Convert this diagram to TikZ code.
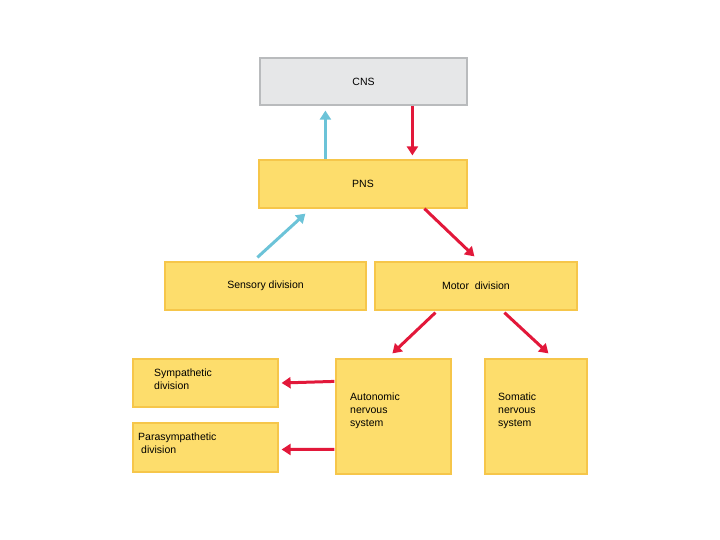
\documentclass[tikz,border=0pt]{standalone}
\usepackage{fontspec}
\setmainfont{Liberation Sans}
\usetikzlibrary{calc,arrows.meta}
\definecolor{yel}{HTML}{FDDD6C}
\definecolor{yelb}{HTML}{F6C64A}
\definecolor{gr}{HTML}{E6E7E8}
\definecolor{grb}{HTML}{B9BBBD}
\definecolor{bl}{HTML}{6CC3D8}
\definecolor{rd}{HTML}{E2183A}
\tikzset{
 box/.style={draw=yelb,fill=yel,line width=1.2pt,inner sep=0pt},
 lbl/.style={font=\fontsize{10.5}{13}\selectfont,align=left,anchor=north west,inner sep=0pt},
 ra/.style={draw=rd,line width=3pt,-{Triangle[length=9pt,width=11pt]}},
 ba/.style={draw=bl,line width=3pt,-{Triangle[length=9pt,width=11pt]}},
}
\begin{document}
\begin{tikzpicture}[x=1pt,y=-1pt]
\useasboundingbox (0,0) rectangle (720,540);
\node[draw=grb,fill=gr,line width=1.2pt,minimum width=207pt,minimum height=47pt,font=\fontsize{10.5}{13}\selectfont] (cns) at (363.5,81.5) {CNS};
\node[box,minimum width=208pt,minimum height=48pt,font=\fontsize{10.5}{13}\selectfont] (pns) at (363,184) {PNS};
\node[box,minimum width=201pt,minimum height=48pt,font=\fontsize{10.5}{13}\selectfont] (sen) at (265.5,286) {Sensory division};
\node[box,minimum width=202pt,minimum height=48pt,font=\fontsize{10.5}{13}\selectfont] (mot) at (476,286) {Motor\ \ division};
\node[box,minimum width=145pt,minimum height=48pt] (sym) at (205.5,383) {};
\node[box,minimum width=145pt,minimum height=49pt] (par) at (205.5,447.5) {};
\node[box,minimum width=115pt,minimum height=115pt] (aut) at (393.5,416.5) {};
\node[box,minimum width=102pt,minimum height=115pt] (som) at (536,416.5) {};
\node[lbl] (tsym) at (154,369) {Sympathetic\\division};
\node[lbl] (tpar) at (138,433) {Parasympathetic\\\hspace*{3pt}division};
\node[lbl] (taut) at (350,393) {Autonomic\\nervous\\system};
\node[lbl] (tsom) at (498,393) {Somatic\\nervous\\system};
\draw[ba] ($(pns.north west)+(67,0)$) -- ($(cns.south west)+(66,5)$);
\draw[ra] ($(cns.south west)+(153,0)$) -- ($(pns.north west)+(154,-4)$);
\draw[ba] ($(sen.north west)+(93,-4)$) -- ($(pns.south west)+(47,5)$);
\draw[ra] ($(pns.south west)+(166,0)$) -- ($(mot.north west)+(100,-5)$);
\draw[ra] ($(mot.south west)+(61,2)$) -- ($(aut.north west)+(57,-5)$);
\draw[ra] ($(mot.south west)+(130,2)$) -- ($(som.north west)+(64,-5)$);
\draw[ra] ($(aut.north west)+(-1,23)$) -- ($(sym.east)+(3,0)$);
\draw[ra] ($(aut.north west)+(-1,91)$) -- ($(par.east)+(3,2)$);
\end{tikzpicture}
\end{document}
